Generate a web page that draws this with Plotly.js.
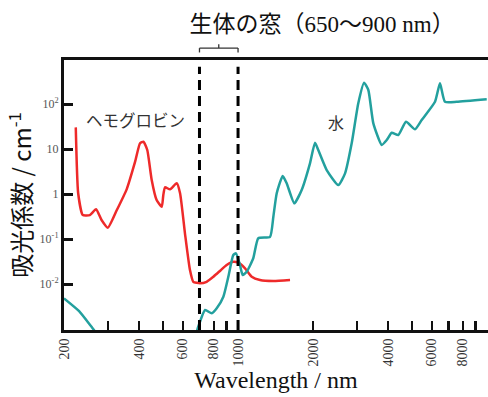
<!DOCTYPE html>
<html>
<head>
<meta charset="utf-8">
<script src="https://cdn.plot.ly/plotly-3.0.1.min.js"></script>
<style>html,body{margin:0;padding:0;background:#fff;}#chart{width:488px;height:397px;}</style>
</head>
<body>
<div id="chart"></div>
<script>
// Hemoglobin absorption (wavelength nm, absorption coefficient cm^-1)
const hbWl  = [223, 228, 238, 254, 269, 283, 300, 326, 357, 386, 404, 417, 432, 450, 471, 494, 501, 509, 533, 567, 585, 612, 641, 661, 703, 748, 796, 850, 900, 957, 1002, 1067, 1135, 1225, 1386, 1617];
const hbAbs = [30.3, 1.04, 0.341, 0.341, 0.457, 0.264, 0.178, 0.44, 1.27, 5.22, 13.4, 14.5, 9.5, 2.05, 0.736, 0.522, 0.95, 1.41, 1.27, 1.73, 1.04, 0.134, 0.0205, 0.0112, 0.0104, 0.0112, 0.0145, 0.02, 0.0264, 0.0313, 0.0297, 0.0223, 0.0145, 0.0123, 0.0117, 0.0123];

// Water absorption
const waterWl  = [200, 230, 258, 290, 450, 650, 692, 737, 784, 821, 873, 914, 957, 981, 1018, 1044, 1083, 1151, 1206, 1344, 1386, 1430, 1511, 1568, 1683, 1801, 1945, 2037, 2100, 2270, 2528, 2690, 2860, 3040, 3206, 3336, 3494, 3776, 3954, 4141, 4402, 4726, 5136, 5464, 6180, 6472, 6778, 7554, 9970];
const waterAbs = [0.0048, 0.0025, 0.00112, 0.0005, 0.0001, 0.0004, 0.00112, 0.00264, 0.00223, 0.00288, 0.00522, 0.0145, 0.044, 0.0481, 0.0264, 0.0158, 0.0187, 0.0373, 0.104, 0.112, 0.313, 1.04, 2.51, 1.73, 0.621, 1.23, 4.81, 13.8, 9.5, 3.41, 1.58, 2.88, 13.4, 104, 297, 205, 37.2, 12.3, 15.8, 23.0, 20.5, 40.4, 27.4, 44.1, 112, 288, 112, 112, 127];

// Biological window markers (as drawn on the axis)
const windowNm = [700, 1000];

// Axis ticks
const xTickVals = [200, 400, 600, 800, 1000, 2000, 4000, 6000, 8000];
const xTickText = ['200', '400', '600', '800', '1000', '2000', '4000', '6000', '8000'];
const xMinorVals = [300, 500, 700, 900, 3000, 5000, 7000, 9000];
const yTickVals = [100, 10, 1, 0.1, 0.01];
const yTickText = ['10<sup>2</sup>', '10', '1', '10<sup>-1</sup>', '10<sup>-2</sup>'];

const serif = 'Liberation Serif, Noto Sans CJK JP, serif';
const sans = 'Noto Sans CJK JP, Noto Sans, sans-serif';

const traces = [
  {x: hbWl, y: hbAbs, mode: 'lines', name: 'ヘモグロビン',
   line: {color: '#ee2a2a', width: 2.5, shape: 'spline', smoothing: 0.5}, hoverinfo: 'x+y'},
  {x: waterWl, y: waterAbs, mode: 'lines', name: '水',
   line: {color: '#23a09e', width: 2.5, shape: 'spline', smoothing: 0.5}, hoverinfo: 'x+y'}
];

const midWin = Math.sqrt(windowNm[0] * windowNm[1]);
const shapes = [
  {type: 'line', xref: 'x', yref: 'paper', x0: windowNm[0], x1: windowNm[0], y0: 0, y1: 0.975,
   line: {color: '#000', width: 3, dash: '10px,6px'}},
  {type: 'line', xref: 'x', yref: 'paper', x0: windowNm[1], x1: windowNm[1], y0: 0, y1: 0.975,
   line: {color: '#000', width: 3, dash: '10px,6px'}},
  {type: 'line', xref: 'x', yref: 'paper', x0: windowNm[0], x1: windowNm[1], y0: 1.044, y1: 1.044,
   line: {color: '#333', width: 1.3}},
  {type: 'line', xref: 'x', yref: 'paper', x0: windowNm[0], x1: windowNm[0], y0: 1.044, y1: 1.028,
   line: {color: '#333', width: 1.3}},
  {type: 'line', xref: 'x', yref: 'paper', x0: windowNm[1], x1: windowNm[1], y0: 1.044, y1: 1.028,
   line: {color: '#333', width: 1.3}},
  {type: 'line', xref: 'x', yref: 'paper', x0: midWin, x1: midWin, y0: 1.044, y1: 1.058,
   line: {color: '#333', width: 1.3}}
];

const layout = {
  width: 488, height: 397,
  margin: {l: 64, r: 0, t: 60, b: 67, pad: 0},
  paper_bgcolor: '#fff', plot_bgcolor: '#fff',
  showlegend: false,
  title: {text: '生体の窓（650〜900 nm）', font: {family: serif, size: 23, color: '#111'},
          xref: 'container', x: 0.66, xanchor: 'center', yref: 'container', y: 0.94, yanchor: 'middle'},
  xaxis: {
    type: 'log', range: [Math.log10(200), 4.0038],
    tickmode: 'array', tickvals: xTickVals, ticktext: xTickText,
    ticks: 'inside', ticklen: 9, tickwidth: 2.5, tickcolor: '#111',
    minor: {tickmode: 'array', tickvals: xMinorVals, ticks: 'inside', ticklen: 9, tickwidth: 2.5, tickcolor: '#111', showgrid: false},
    tickangle: -90, tickfont: {family: serif, size: 14, color: '#333'},
    showline: true, linecolor: '#111', linewidth: 3, mirror: true,
    showgrid: false, zeroline: false,
    title: {text: 'Wavelength / nm', font: {family: serif, size: 24, color: '#111'}, standoff: 6}
  },
  yaxis: {
    type: 'log', range: [-3.022, 2.978],
    tickmode: 'array', tickvals: yTickVals, ticktext: yTickText,
    ticks: 'inside', ticklen: 9, tickwidth: 3, tickcolor: '#111',
    tickfont: {family: serif, size: 12, color: '#555'},
    showline: true, linecolor: '#111', linewidth: 3,
    showgrid: false, zeroline: false,
    title: {text: '吸光係数 / cm<sup>-1</sup>', font: {family: sans, size: 24, color: '#111'}, standoff: 2}
  },
  annotations: [
    {text: 'ヘモグロビン', xref: 'x', yref: 'y', x: 2.5866, y: 1.644, showarrow: false,
     font: {family: sans, size: 16.5, color: '#333'}, xanchor: 'center', yanchor: 'middle'},
    {text: '水', xref: 'x', yref: 'y', x: 3.3934, y: 1.6, showarrow: false,
     font: {family: sans, size: 16, color: '#333'}, xanchor: 'center', yanchor: 'middle'}
  ],
  shapes: shapes
};

Plotly.newPlot('chart', traces, layout, {displayModeBar: false, staticPlot: true});
</script>
</body>
</html>
